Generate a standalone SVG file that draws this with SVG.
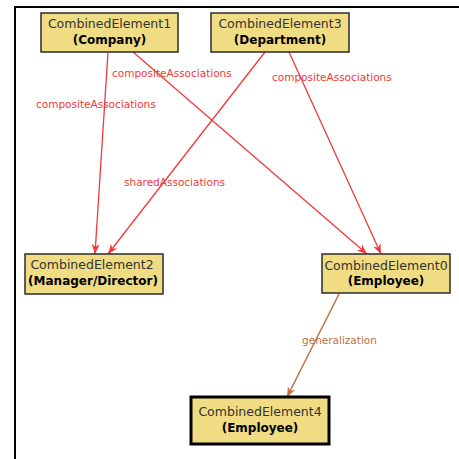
<svg xmlns="http://www.w3.org/2000/svg" width="459" height="459" viewBox="0 0 459 459">
  <style>
    .node rect { fill: #f0dc82; stroke: #2b2b2b; stroke-width: 1.5; }
    .node.leaf rect { stroke: #000; stroke-width: 3; }
    .name { font-family: "DejaVu Sans", Verdana, sans-serif; font-size: 12.5px; fill: #333; text-anchor: middle; }
    .type { font-family: "DejaVu Sans", Verdana, sans-serif; font-size: 12px; font-weight: bold; fill: #000; text-anchor: middle; }
    .edge { stroke: #f03a3a; stroke-width: 1.3; fill: none; marker-end: url(#arrRed); }
    .gen { stroke: #c0703f; stroke-width: 1.5; fill: none; marker-end: url(#arrBrown); }
    .lbl { font-family: "DejaVu Sans", Verdana, sans-serif; font-size: 10.5px; fill: #f03a3a; }
    .lbl.g { fill: #c0703f; }
  </style>
  <defs>
    <marker id="arrRed" viewBox="0 0 10 10" refX="10" refY="5" markerWidth="10" markerHeight="10" markerUnits="userSpaceOnUse" orient="auto">
      <path d="M0,1 L10,5 L0,9 L3,5 Z" fill="#f03a3a"/>
    </marker>
    <marker id="arrBrown" viewBox="0 0 10 10" refX="10" refY="5" markerWidth="10" markerHeight="10" markerUnits="userSpaceOnUse" orient="auto">
      <path d="M0,1 L10,5 L0,9 L3,5 Z" fill="#c0703f"/>
    </marker>
  </defs>

  <rect x="0" y="0" width="459" height="459" fill="#fff"/>
  <!-- frame -->
  <line x1="14" y1="7" x2="459" y2="7" stroke="#000" stroke-width="2"/>
  <line x1="15" y1="6" x2="15" y2="459" stroke="#000" stroke-width="2"/>

  <g id="connectors">
    <line class="edge" x1="108" y1="52" x2="95" y2="254"/>
    <line class="edge" x1="133" y1="52" x2="367" y2="254"/>
    <line class="edge" x1="265" y1="52" x2="108" y2="254"/>
    <line class="edge" x1="289" y1="52" x2="381" y2="254"/>
    <line class="gen" x1="339" y1="294" x2="287" y2="397"/>
    <text class="lbl" x="36" y="108">compositeAssociations</text>
    <text class="lbl" x="112" y="77">compositeAssociations</text>
    <text class="lbl" x="124" y="186">sharedAssociations</text>
    <text class="lbl" x="272" y="81">compositeAssociations</text>
    <text class="lbl g" x="302" y="344">generalization</text>
  </g>

  <g id="CombinedElement1" class="node">
    <rect x="41" y="13" width="137" height="39"/>
    <text class="name" x="109.5" y="28">CombinedElement1</text>
    <text class="type" x="109.5" y="44">(Company)</text>
  </g>
  <g id="CombinedElement3" class="node">
    <rect x="211" y="13" width="138" height="39"/>
    <text class="name" x="280" y="28">CombinedElement3</text>
    <text class="type" x="280" y="44">(Department)</text>
  </g>
  <g id="CombinedElement2" class="node">
    <rect x="25" y="254" width="138" height="40"/>
    <text class="name" x="92" y="269">CombinedElement2</text>
    <text class="type" x="93" y="285">(Manager/Director)</text>
  </g>
  <g id="CombinedElement0" class="node">
    <rect x="322" y="254" width="128" height="39"/>
    <text class="name" x="386" y="270">CombinedElement0</text>
    <text class="type" x="386" y="285">(Employee)</text>
  </g>
  <g id="CombinedElement4" class="node leaf">
    <rect x="191" y="397" width="138" height="47"/>
    <text class="name" x="260" y="416">CombinedElement4</text>
    <text class="type" x="260" y="432">(Employee)</text>
  </g>
</svg>
